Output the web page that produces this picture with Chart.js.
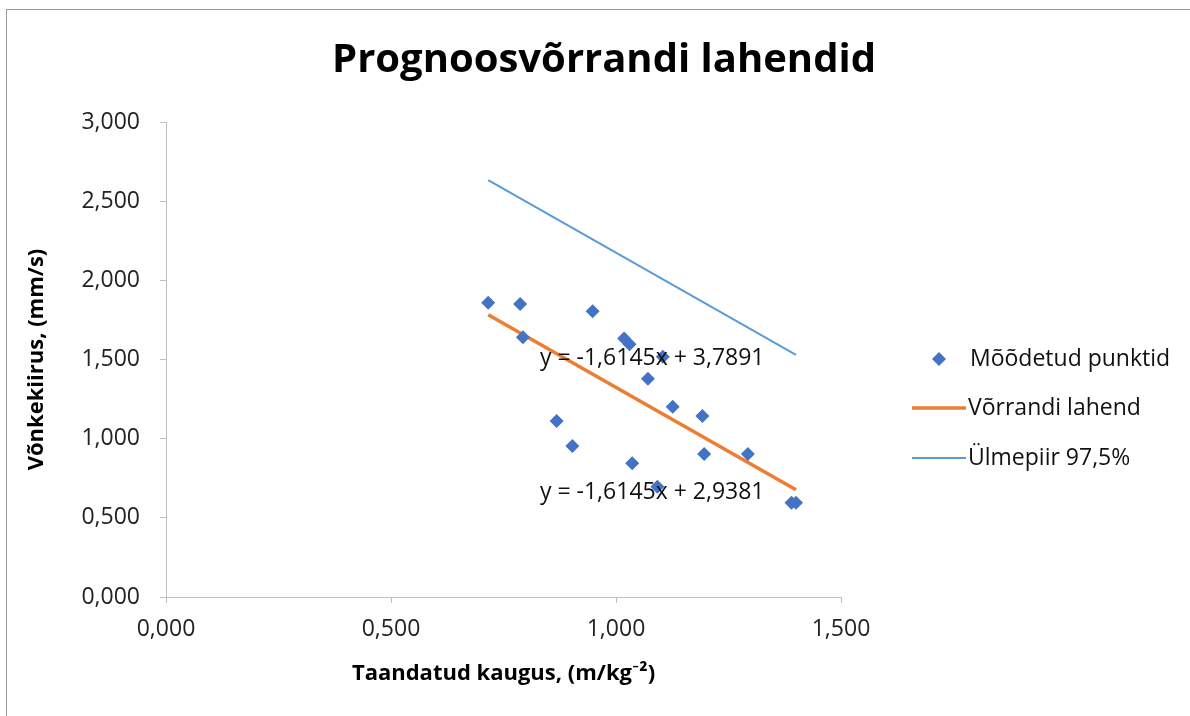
<!DOCTYPE html>
<html lang="et">
<head>
    <meta charset="UTF-8">
    <title>Prognoosvõrrandi lahendid</title>
    <script src="https://cdn.jsdelivr.net/npm/chart.js"></script>
    <style>
        body {
            margin: 0;
            padding: 0;
            background-color: #fff;
            overflow: hidden;
        }
        .frame {
            position: absolute;
            left: 6px;
            top: 9px;
            width: 1300px;
            height: 800px;
            border: 1.5px solid #9a9a9a;
            pointer-events: none;
        }
        #chart {
            position: absolute;
            left: 0;
            top: 0;
        }
    </style>
</head>
<body>
    <canvas id="chart" width="1190" height="716"></canvas>
    <div class="frame"></div>

    <script>
        // Values
        const measX = [0.716, 0.787, 0.793, 0.948, 1.018, 1.030, 1.104, 1.071, 1.126,
                       1.192, 0.868, 0.903, 1.036, 1.092, 1.196, 1.293, 1.390, 1.400];
        const measY = [1.858, 1.850, 1.640, 1.804, 1.633, 1.597, 1.517, 1.378, 1.201,
                       1.143, 1.111, 0.953, 0.844, 0.696, 0.903, 0.903, 0.595, 0.595];

        const lineX = [0.716, 1.400];
        const fitY = [1.782, 0.678];      // y = -1,6145x + 2,9381
        const upperY = [2.633, 1.529];    // y = -1,6145x + 3,7891

        const seriesNames = ['Mõõdetud punktid', 'Võrrandi lahend', 'Ülmepiir 97,5%'];
        const equations = ['y = -1,6145x + 3,7891', 'y = -1,6145x + 2,9381'];
        const xTicks = [0, 0.5, 1.0, 1.5];
        const yTicks = [0, 0.5, 1.0, 1.5, 2.0, 2.5, 3.0];

        const FONT = '"Open Sans", Lato, sans-serif';
        const BLUE_PTS = '#4472c4';
        const ORANGE = '#ed7d31';
        const BLUE_LINE = '#5b9bd5';

        const toXY = (xs, ys) => xs.map((x, i) => ({ x: x, y: ys[i] }));
        const fmt = v => Number(v).toFixed(3).replace('.', ',');

        // title, equation labels and legend drawn on the canvas
        const extras = {
            id: 'extras',
            afterDraw(chart) {
                const ctx = chart.ctx;
                const xs = chart.scales.x, ys = chart.scales.y;
                ctx.save();

                ctx.fillStyle = '#000';
                ctx.font = 'bold 40px ' + FONT;
                ctx.textAlign = 'center';
                ctx.textBaseline = 'middle';
                ctx.fillText('Prognoosvõrrandi lahendid', 604, 61);

                // trendline equations
                ctx.font = '23px ' + FONT;
                ctx.textAlign = 'left';
                ctx.fillStyle = '#111';
                ctx.fillText(equations[0], xs.getPixelForValue(0.831), ys.getPixelForValue(1.509));
                ctx.fillText(equations[1], xs.getPixelForValue(0.831), ys.getPixelForValue(0.663));

                // legend
                const lx = 912, rows = [359, 408, 458];
                ctx.fillStyle = BLUE_PTS;
                ctx.beginPath();
                ctx.moveTo(939, rows[0] - 7);
                ctx.lineTo(946, rows[0]);
                ctx.lineTo(939, rows[0] + 7);
                ctx.lineTo(932, rows[0]);
                ctx.closePath();
                ctx.fill();

                ctx.lineWidth = 3.5;
                ctx.strokeStyle = ORANGE;
                ctx.beginPath();
                ctx.moveTo(lx, rows[1]);
                ctx.lineTo(lx + 54, rows[1]);
                ctx.stroke();

                ctx.lineWidth = 2;
                ctx.strokeStyle = BLUE_LINE;
                ctx.beginPath();
                ctx.moveTo(lx, rows[2]);
                ctx.lineTo(lx + 54, rows[2]);
                ctx.stroke();

                ctx.fillStyle = '#111';
                ctx.font = '23px ' + FONT;
                ctx.fillText(seriesNames[0], 970, rows[0]);
                ctx.fillText(seriesNames[1], 968, rows[1]);
                ctx.fillText(seriesNames[2], 968, rows[2]);
                ctx.restore();
            }
        };

        const ctx = document.getElementById('chart').getContext('2d');
        const chart = new Chart(ctx, {
            type: 'scatter',
            data: {
                datasets: [
                    {
                        label: seriesNames[2],
                        data: toXY(lineX, upperY),
                        showLine: true,
                        borderColor: BLUE_LINE,
                        borderWidth: 2,
                        pointRadius: 0,
                        order: 3
                    },
                    {
                        label: seriesNames[1],
                        data: toXY(lineX, fitY),
                        showLine: true,
                        borderColor: ORANGE,
                        borderWidth: 3.5,
                        pointRadius: 0,
                        order: 2
                    },
                    {
                        label: seriesNames[0],
                        data: toXY(measX, measY),
                        pointStyle: 'rectRot',
                        pointRadius: 7,
                        backgroundColor: BLUE_PTS,
                        borderColor: BLUE_PTS,
                        borderWidth: 0,
                        order: 1
                    }
                ]
            },
            options: {
                responsive: false,
                animation: false,
                layout: {
                    padding: { left: 0, right: 349, top: 122, bottom: 19 }
                },
                plugins: {
                    legend: { display: false },
                    title: { display: false },
                    tooltip: { enabled: false }
                },
                scales: {
                    x: {
                        type: 'linear',
                        min: 0,
                        max: 1.5,
                        afterBuildTicks: s => { s.ticks = xTicks.map(v => ({ value: v })); },
                        afterFit: s => { s.height = 100; },
                        grid: { display: true, drawOnChartArea: false, drawTicks: true, tickLength: 6, color: '#bfbfbf' },
                        border: { color: '#bfbfbf', width: 1 },
                        ticks: {
                            padding: 13,
                            color: '#222',
                            font: { family: FONT, size: 23 },
                            callback: v => fmt(v)
                        },
                        title: {
                            display: true,
                            text: 'Taandatud kaugus, (m/kg⁻²)',
                            color: '#000',
                            font: { family: FONT, size: 22, weight: 'bold' },
                            padding: { top: 0, bottom: 10 }
                        }
                    },
                    y: {
                        type: 'linear',
                        min: 0,
                        max: 3,
                        afterBuildTicks: s => { s.ticks = yTicks.map(v => ({ value: v })); },
                        afterFit: s => { s.width = 166; },
                        grid: { display: true, drawOnChartArea: false, drawTicks: true, tickLength: 6, color: '#bfbfbf' },
                        border: { color: '#bfbfbf', width: 1 },
                        ticks: {
                            padding: 20,
                            color: '#222',
                            font: { family: FONT, size: 23 },
                            callback: v => fmt(v)
                        },
                        title: {
                            display: true,
                            text: 'Võnkekiirus, (mm/s)',
                            color: '#000',
                            font: { family: FONT, size: 22, weight: 'bold' },
                            padding: { top: 24, bottom: 0 }
                        }
                    }
                }
            },
            plugins: [extras]
        });
    </script>
</body>
</html>
